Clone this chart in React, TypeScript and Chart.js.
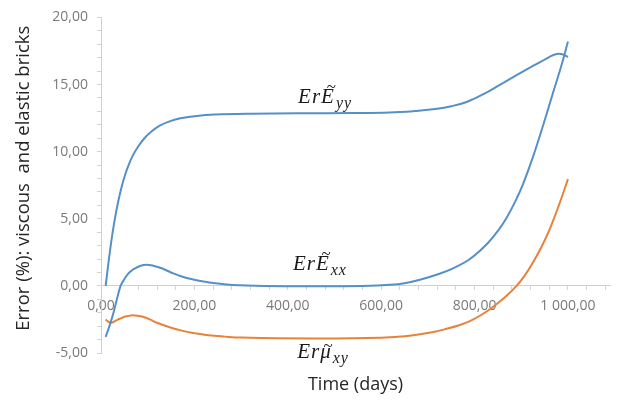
import { useEffect, useRef } from 'react';
import { Chart, registerables } from 'chart.js';

Chart.register(...registerables);

// ---- data (time in days, error in %) ----
const tEyy = [10, 15, 20, 25, 30, 37, 44, 51, 58, 68, 80, 93, 108, 125, 144, 170, 201, 244, 320, 424, 540, 618, 670, 711, 750, 783, 820, 855, 890, 926, 950, 969, 985, 1000];
const vEyy = [0, 1.45, 2.8, 4.0, 5.05, 6.3, 7.35, 8.2, 8.9, 9.7, 10.4, 11.0, 11.5, 11.92, 12.22, 12.48, 12.64, 12.76, 12.83, 12.86, 12.88, 12.92, 13.02, 13.15, 13.38, 13.7, 14.3, 15.0, 15.7, 16.4, 16.85, 17.2, 17.28, 17.05];

const tExx = [10, 18, 26, 34, 42, 50, 58, 66, 73, 85, 97, 112, 130, 150, 173, 197, 223, 250, 281, 350, 450, 560, 620, 650, 683, 720, 754, 790, 826, 850, 869, 888, 904, 926, 948, 969, 985, 1000];
const vExx = [-3.8, -3.0, -2.1, -1.0, 0, 0.5, 0.9, 1.15, 1.3, 1.5, 1.58, 1.5, 1.31, 1.0, 0.7, 0.48, 0.3, 0.17, 0.07, 0.0, -0.02, 0.0, 0.08, 0.2, 0.46, 0.85, 1.31, 2.0, 3.1, 4.1, 5.1, 6.35, 7.6, 9.7, 12.1, 14.5, 16.3, 18.2];

const tMuxy = [10, 16, 22, 30, 40, 52, 65, 78, 90, 105, 120, 147, 175, 200, 230, 265, 300, 450, 600, 650, 683, 712, 740, 765, 790, 815, 840, 865, 890, 908, 926, 944, 961, 980, 1000];
const vMuxy = [-2.5, -2.68, -2.75, -2.62, -2.45, -2.28, -2.2, -2.22, -2.3, -2.5, -2.75, -3.08, -3.35, -3.52, -3.68, -3.78, -3.85, -3.92, -3.87, -3.75, -3.61, -3.44, -3.2, -2.95, -2.62, -2.15, -1.55, -0.85, 0, 0.8, 1.8, 2.95, 4.23, 5.95, 7.95];

// axis ranges and ticks
const xMin = 0;
const xMax = 1090;
const xMinorStep = 40;
const xLabelStep = 200;
const yMin = -5;
const yMax = 20;
const yMinorStep = 1;
const yLabelStep = 5;

// curve labels (anchored in data coordinates)
const annBase = ['Er', 'Er', 'Er'];
const annSym = ['E', 'E', '\u03BC'];
const annSub = ['yy', 'xx', 'xy'];
const annT = [422, 411, 420];
const annV = [13.64, 1.21, -5.4];

const yTitle = 'Error (%): viscous  and elastic bricks';
const xTitle = 'Time (days)';

const BLUE = '#5590c8';
const ORANGE = '#e8823a';

function fmt(v: number): string {
  const neg = v < 0;
  const s = Math.abs(v).toFixed(2);
  let [i, d] = s.split('.');
  i = i.replace(/\B(?=(\d{3})+(?!\d))/g, ' ');
  return (neg ? '-' : '') + i + ',' + d;
}

function pts(t: number[], v: number[]) {
  return t.map((x, k) => ({ x, y: v[k] }));
}

const textPlugin = {
  id: 'textPlugin',
  afterDraw(chart: any) {
    const ctx = chart.ctx as CanvasRenderingContext2D;
    const xs = chart.scales.x;
    const ys = chart.scales.y;
    const area = chart.chartArea;
    ctx.save();
    ctx.fillStyle = '#1a1a1a';
    ctx.textBaseline = 'alphabetic';
    ctx.textAlign = 'left';
    for (let k = 0; k < annBase.length; k++) {
      const x = xs.getPixelForValue(annT[k]);
      const y = ys.getPixelForValue(annV[k]);
      (ctx as any).letterSpacing = '1px';
      ctx.font = 'italic 21px "Liberation Serif"';
      ctx.fillText(annBase[k], x, y);
      const w1 = ctx.measureText(annBase[k]).width;
      ctx.fillText(annSym[k], x + w1, y);
      const w2 = ctx.measureText(annSym[k]).width;
      // tilde accent
      (ctx as any).letterSpacing = '0px';
      ctx.font = 'italic 17px "Liberation Serif"';
      const tw = ctx.measureText('~').width;
      const isMu = annSym[k] === '\u03BC';
      ctx.fillText('~', x + w1 + (w2 - tw) / 2 + (isMu ? 2 : 3), y - (isMu ? 7 : 11));
      ctx.font = 'italic 16px "Liberation Serif"';
      (ctx as any).letterSpacing = '1px';
      ctx.fillText(annSub[k], x + w1 + w2 + 1, y + 5);
    }
    (ctx as any).letterSpacing = '0px';
    // axis titles
    ctx.font = '18px "Open Sans"';
    ctx.fillStyle = '#262626';
    ctx.textAlign = 'center';
    ctx.textBaseline = 'middle';
    ctx.fillText(xTitle, (area.left + area.right) / 2, area.bottom + 32);
    ctx.save();
    ctx.translate(24, (area.top + area.bottom) / 2 - 7);
    ctx.rotate(-Math.PI / 2);
    ctx.font = '18.5px "Open Sans"';
    ctx.fillText(yTitle, 0, 0);
    ctx.restore();
    ctx.restore();
  },
};

export default function App() {
  const ref = useRef<HTMLCanvasElement | null>(null);

  useEffect(() => {
    if (!ref.current) return;
    const gridCommon = {
      display: true,
      drawOnChartArea: false,
      drawTicks: true,
      tickLength: 4,
      color: '#d4d4d4',
    };
    const chart = new Chart(ref.current, {
      type: 'scatter',
      data: {
        datasets: [
          { label: 'Eyy', data: pts(tEyy, vEyy), borderColor: BLUE, backgroundColor: BLUE },
          { label: 'Exx', data: pts(tExx, vExx), borderColor: BLUE, backgroundColor: BLUE },
          { label: 'Muxy', data: pts(tMuxy, vMuxy), borderColor: ORANGE, backgroundColor: ORANGE },
        ].map((d) => ({
          ...d,
          showLine: true,
          pointRadius: 0,
          borderWidth: 2,
          tension: 0.4,
        })),
      },
      options: {
        animation: false,
        responsive: false,
        layout: { padding: { top: 11, right: 9, bottom: 50, left: 0 } },
        plugins: { legend: { display: false }, tooltip: { enabled: false } },
        scales: {
          x: {
            type: 'linear',
            position: { y: 0 } as any,
            min: xMin,
            max: xMax,
            grid: gridCommon,
            border: { display: true, color: '#d0d0d0', width: 1 },
            afterBuildTicks: (scale: any) => {
              const ticks = [];
              for (let v = xMin; v <= xMax; v += xMinorStep) ticks.push({ value: v });
              scale.ticks = ticks;
            },
            ticks: {
              autoSkip: false,
              maxRotation: 0,
              padding: 8,
              color: '#7a7a7a',
              font: { family: 'Open Sans', size: 14 },
              callback: (value: any) => (Number(value) % xLabelStep === 0 ? fmt(Number(value)) : ''),
            },
          },
          y: {
            type: 'linear',
            position: 'left',
            min: yMin,
            max: yMax,
            grid: gridCommon,
            border: { display: true, color: '#d0d0d0', width: 1 },
            afterBuildTicks: (scale: any) => {
              const ticks = [];
              for (let v = yMin; v <= yMax; v += yMinorStep) ticks.push({ value: v });
              scale.ticks = ticks;
            },
            afterFit: (scale: any) => {
              scale.width = 101;
            },
            ticks: {
              autoSkip: false,
              padding: 9,
              color: '#7a7a7a',
              font: { family: 'Open Sans', size: 14 },
              callback: (value: any) => (Number(value) % yLabelStep === 0 ? fmt(Number(value)) : ''),
            },
          },
        },
      },
      plugins: [textPlugin],
    });
    return () => chart.destroy();
  }, []);

  return (
    <div style={{ position: 'absolute', left: 0, top: 0, width: 619, height: 403, background: '#fff' }}>
      <canvas ref={ref} width={619} height={403} style={{ display: 'block' }} />
    </div>
  );
}
